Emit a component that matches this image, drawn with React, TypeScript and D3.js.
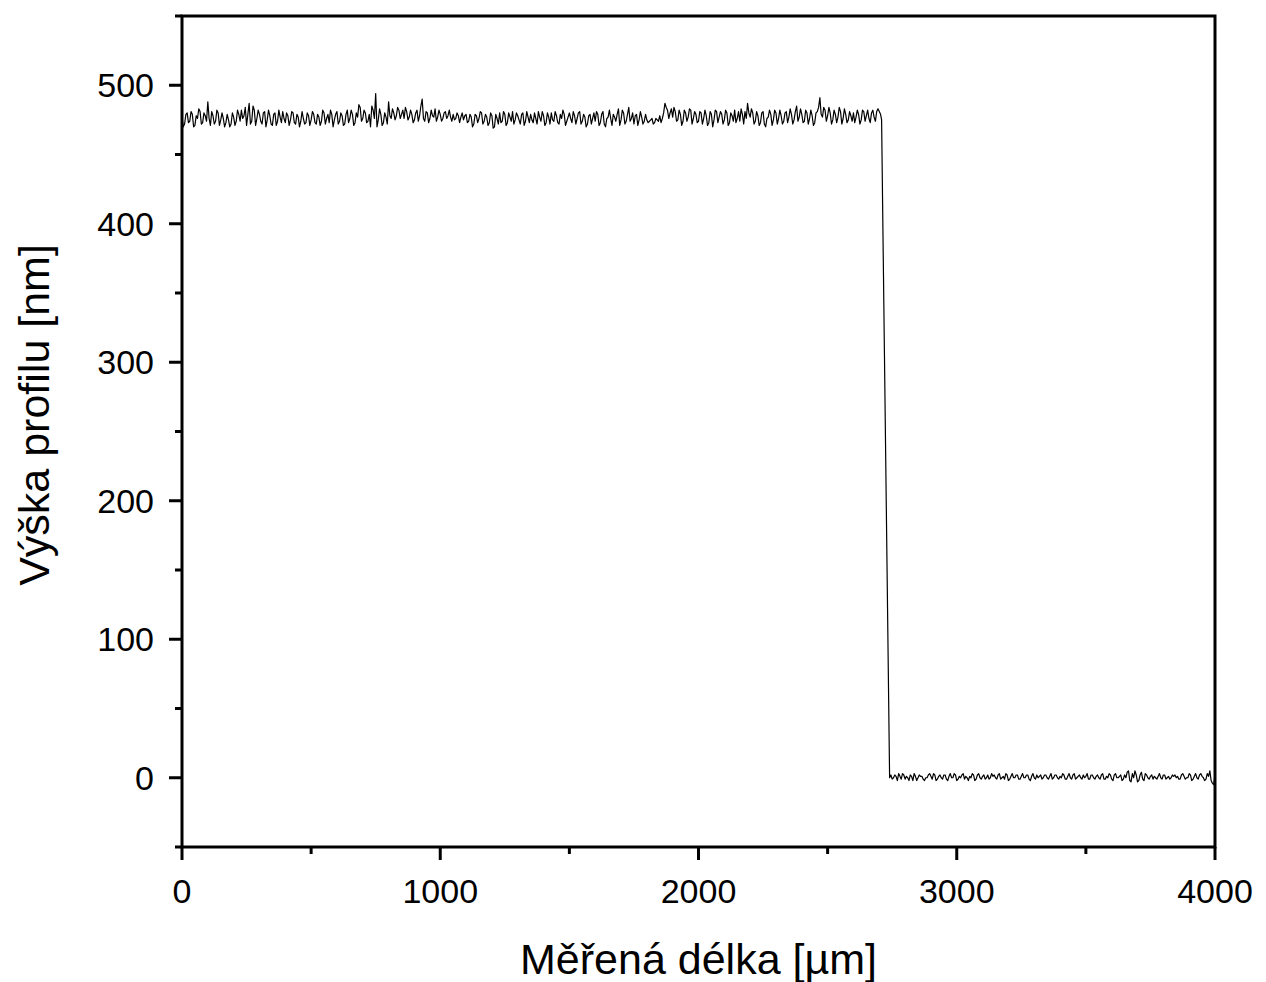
import React from "react";
import * as d3 from "d3";

// Measured profile: upper plateau, samples at 0, 10, ..., 2690 µm
const upperStart = 0;
const upperStep = 10;
const upperValues: number[] = [
  477, 472, 480, 474, 479, 471, 476, 481, 473, 478,
  488, 471, 478, 474, 480, 475, 476, 473, 475, 472,
  477, 474, 479, 482, 478, 471, 487, 474, 482, 476,
  479, 472, 481, 475, 478, 471, 480, 474, 477, 481,
  473, 478, 475, 480, 472, 477, 474, 476, 473, 478,
  475, 479, 472, 477, 474, 480, 476, 473, 479, 475,
  481, 474, 478, 472, 482, 476, 479, 473, 477, 484,
  476, 480, 474, 470, 482, 494, 475, 479, 473, 477,
  488, 476, 480, 478, 482, 479, 476, 481, 477, 479,
  475, 482, 478, 490, 474, 480, 476, 478, 483, 477,
  479, 476, 481, 478, 477, 479, 476, 478, 477, 475,
  479, 474, 477, 472, 478, 476, 480, 474, 477, 473,
  478, 470, 476, 480, 474, 479, 473, 477, 481, 475,
  478, 472, 480, 474, 477, 479, 473, 476, 481, 474,
  478, 473, 477, 480, 474, 478, 472, 476, 479, 474,
  480, 473, 478, 476, 481, 474, 477, 472, 479, 476,
  474, 479, 473, 481, 470, 477, 476, 479, 474, 483,
  475, 480, 474, 484, 476, 472, 479, 475, 477, 474,
  475, 474, 476, 473, 475, 478, 476, 487, 482, 480,
  477, 481, 475, 479, 474, 480, 477, 482, 476, 479,
  474, 480, 476, 478, 473, 479, 475, 481, 477, 479,
  475, 480, 473, 478, 482, 476, 474, 479, 481, 487,
  477, 480, 474, 478, 473, 481, 470, 477, 479, 475,
  480, 476, 478, 474, 481, 477, 479, 475, 485, 477,
  479, 474, 480, 476, 478, 473, 481, 491, 477, 482,
  478, 480, 475, 479, 477, 481, 476, 479, 475, 478,
  480, 477, 479, 475, 481, 478, 476, 480, 477, 481,
];

// Upper plateau, in-between samples at 5, 15, ..., 2695 µm
const upperMidStart = 5;
const upperMidValues: number[] = [
  470, 479, 473, 481, 470, 478, 483, 472, 480, 474,
  476, 481, 472, 482, 471, 480, 470, 479, 470, 480,
  471, 482, 474, 476, 484, 479, 472, 485, 471, 482,
  474, 480, 470, 482, 472, 479, 471, 482, 473, 476,
  480, 471, 481, 473, 479, 470, 481, 472, 480, 471,
  481, 473, 479, 471, 482, 472, 479, 482, 470, 479,
  472, 480, 471, 479, 473, 482, 471, 480, 486, 474,
  482, 473, 479, 485, 476, 470, 483, 471, 480, 472,
  478, 483, 475, 484, 476, 482, 484, 475, 482, 473,
  480, 474, 485, 476, 481, 473, 482, 477, 474, 482,
  474, 480, 476, 482, 474, 475, 480, 473, 480, 478,
  473, 479, 470, 479, 473, 481, 472, 479, 471, 480,
  469, 479, 472, 473, 481, 471, 480, 474, 472, 480,
  475, 479, 471, 481, 473, 475, 480, 472, 477, 481,
  471, 480, 472, 475, 481, 473, 479, 482, 471, 477,
  476, 481, 472, 480, 472, 479, 470, 478, 472, 480,
  481, 471, 479, 472, 476, 482, 471, 477, 479, 471,
  482, 472, 479, 474, 480, 478, 471, 481, 472, 479,
  473, 475, 472, 476, 474, 473, 480, 484, 476, 483,
  484, 474, 482, 471, 482, 474, 483, 472, 481, 473,
  481, 472, 482, 471, 481, 470, 482, 473, 481, 472,
  482, 471, 480, 474, 473, 481, 483, 472, 476, 480,
  483, 472, 481, 471, 480, 472, 476, 482, 471, 482,
  472, 482, 472, 480, 473, 483, 472, 481, 474, 483,
  473, 482, 472, 482, 471, 480, 484, 479, 484, 474,
  484, 472, 482, 473, 484, 472, 483, 473, 481, 474,
  473, 482, 472, 482, 474, 482, 473, 482, 474, 483,
];

// Step edge (µm, nm)
const edgeX: number[] = [2700, 2705, 2709, 2720, 2730, 2740];
const edgeY: number[] = [481, 479, 475, 306, 153, 0];

// Lower level, samples at 2750, 2760, ..., 4000 µm
const lowerStart = 2750;
const lowerStep = 10;
const lowerValues: number[] = [
  -1, 2, -2, 1, 3, -1, 0, 2, -2, 1,
  0, 1, -1, 0, 2, 1, 3, -2, 1, 0,
  2, -1, 1, 0, 3, -2, 1, 2, -1, 0,
  1, 3, -2, 2, 0, 1, -1, 2, 0, 1,
  0, 2, -1, 1, 3, -2, 1, 0, 2, -1,
  1, 0, 2, -1, 1, 0, 2, 1, -1, 2,
  0, 1, -1, 2, 0, 1, 3, -1, 1, 0,
  2, -1, 1, 0, 2, 1, -1, 2, 0, 1,
  0, 2, -1, 1, 3, -1, 2, 0, 1, -2,
  2, 4, -2, 3, 5, -3, 2, -1, 3, 0,
  1, -1, 0, 1, 0, 2, -1, 1, 0, 1,
  0, -1, 2, 1, 0, 3, -2, 1, 0, 2,
  1, -2, 3, 5, -4, 2,
];

// Lower level, in-between samples at 2745, 2755, ..., 3995 µm
const lowerMidStart = 2745;
const lowerMidValues: number[] = [
  2, 0, 1, 3, -1, 2, 1, -2, 1, 3,
  -2, 2, 1, -2, 0, 3, -1, 2, -1, 2,
  -1, 2, -2, 3, 0, 2, -1, 0, 3, 1,
  -2, 0, 2, -1, 3, -1, 2, 0, -1, 3,
  2, -1, 3, 0, -1, 2, -1, 3, 0, 2,
  -1, 3, 0, 2, -2, 3, -1, 0, 2, 0,
  2, -1, 3, 0, 2, -1, 0, 2, -1, 3,
  -1, 3, 0, 2, -1, 0, 3, -1, 2, -1,
  2, -1, 3, -1, 0, 2, -2, 3, 0, 2,
  -1, 0, 5, -3, 0, 2, -2, 4, -2, 2,
  -1, 2, 1, -1, 3, -1, 2, 0, -1, 2,
  2, 1, -1, 3, -1, 0, 2, -1, 3, -1,
  3, 0, -1, 1, -2, -5,
];

const xTicks: number[] = [0, 1000, 2000, 3000, 4000];
const xMinorTicks: number[] = [500, 1500, 2500, 3500];
const yTicks: number[] = [0, 100, 200, 300, 400, 500];
const yMinorTicks: number[] = [-50, 50, 150, 250, 350, 450, 550];

const xTitle = "Měřená délka [µm]";
const yTitle = "Výška profilu [nm]";

const W = 1266;
const H = 982;
const M = { left: 182, right: 1215, top: 16, bottom: 847 };
const FONT = "'Liberation Sans', Arial, sans-serif";

export default function App() {
  const x = d3.scaleLinear().domain([0, 4000]).range([M.left, M.right]);
  const y = d3.scaleLinear().domain([-50, 550]).range([M.bottom, M.top]);

  const pts: [number, number][] = [];
  upperValues.forEach((v, i) => pts.push([upperStart + i * upperStep, v]));
  upperMidValues.forEach((v, i) => pts.push([upperMidStart + i * upperStep, v]));
  edgeX.forEach((ex, i) => pts.push([ex, edgeY[i]]));
  lowerValues.forEach((v, i) => pts.push([lowerStart + i * lowerStep, v]));
  lowerMidValues.forEach((v, i) => pts.push([lowerMidStart + i * lowerStep, v]));
  pts.sort((a, b) => a[0] - b[0]);

  const line = d3
    .line<[number, number]>()
    .x((d) => x(d[0]))
    .y((d) => y(d[1]));

  const majorLen = 13;
  const minorLen = 7;

  return (
    <svg
      width={W}
      height={H}
      style={{ position: "absolute", left: 0, top: 0, background: "#fff" }}
      fontFamily={FONT}
    >
      <rect x={0} y={0} width={W} height={H} fill="#fff" />
      <path d={line(pts) || ""} fill="none" stroke="#000" strokeWidth={1.2} strokeLinejoin="round" />
      {/* frame */}
      <rect
        x={M.left}
        y={M.top}
        width={M.right - M.left}
        height={M.bottom - M.top}
        fill="none"
        stroke="#000"
        strokeWidth={3}
      />
      {/* x ticks */}
      {xTicks.map((t) => (
        <g key={"xt" + t}>
          <line x1={x(t)} x2={x(t)} y1={M.bottom} y2={M.bottom + majorLen} stroke="#000" strokeWidth={3} />
          <text x={x(t)} y={903} textAnchor="middle" fontSize={34} fill="#000">
            {t}
          </text>
        </g>
      ))}
      {xMinorTicks.map((t) => (
        <line key={"xm" + t} x1={x(t)} x2={x(t)} y1={M.bottom} y2={M.bottom + minorLen} stroke="#000" strokeWidth={3} />
      ))}
      {/* y ticks */}
      {yTicks.map((t) => (
        <g key={"yt" + t}>
          <line x1={M.left} x2={M.left - majorLen} y1={y(t)} y2={y(t)} stroke="#000" strokeWidth={3} />
          <text x={154} y={y(t) + 12} textAnchor="end" fontSize={34} fill="#000">
            {t}
          </text>
        </g>
      ))}
      {yMinorTicks.map((t) => (
        <line key={"ym" + t} x1={M.left} x2={M.left - minorLen} y1={y(t)} y2={y(t)} stroke="#000" strokeWidth={3} />
      ))}
      {/* titles */}
      <text x={(M.left + M.right) / 2} y={974} textAnchor="middle" fontSize={43} fill="#000">
        {xTitle}
      </text>
      <text
        transform={`translate(49, 415) rotate(-90)`}
        textAnchor="middle"
        fontSize={43}
        fill="#000"
      >
        {yTitle}
      </text>
    </svg>
  );
}
